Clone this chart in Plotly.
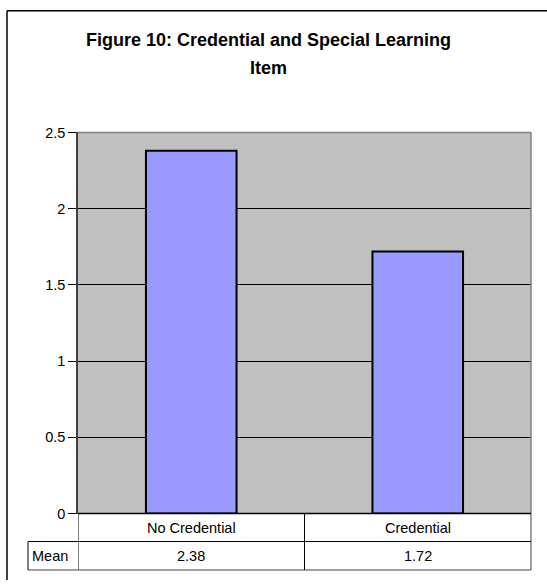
import plotly.graph_objects as go

# Data
categories = ["No Credential", "Credential"]
mean_values = [2.38, 1.72]
row_label = "Mean"
y_ticks = [0, 0.5, 1, 1.5, 2, 2.5]
y_tick_labels = ["0", "0.5", "1", "1.5", "2", "2.5"]
title_lines = ["Figure 10: Credential and Special Learning", "Item"]

W, H = 547, 588
FONT = "Arial, Liberation Sans, sans-serif"
TXT = 14.5

# the page is captured with a small vertical inset/scale; layout positions
# below are given in screen pixels and converted here
Y_OFF, Y_SCALE = 7.25, 0.975

def px(x):
    return x / W

def py(y):
    return 1 - ((y - Y_OFF) / Y_SCALE) / H

# plot area in screen pixels
PL, PR, PT, PB = 78, 531, 132, 514
ROW1_B, ROW2_B = 542, 570.5
TABLE_L = 28

fig = go.Figure()
fig.add_trace(go.Bar(
    x=categories,
    y=mean_values,
    width=0.4,
    marker=dict(color="#9999FF", line=dict(color="black", width=2)),
    hoverinfo="x+y",
))

shapes = []
# outer chart frame (top and left edges visible)
shapes.append(dict(type="line", xref="paper", yref="paper",
                   x0=px(7), x1=1.0, y0=py(10), y1=py(10),
                   line=dict(color="black", width=1.5)))
shapes.append(dict(type="line", xref="paper", yref="paper",
                   x0=px(7), x1=px(7), y0=py(10), y1=0.0,
                   line=dict(color="black", width=1.5)))
# plot area border (top and right)
shapes.append(dict(type="line", xref="paper", yref="paper",
                   x0=px(PL), x1=px(PR), y0=py(PT), y1=py(PT),
                   line=dict(color="#808080", width=1.5)))
shapes.append(dict(type="line", xref="paper", yref="paper",
                   x0=px(PR), x1=px(PR), y0=py(PT), y1=py(ROW2_B),
                   line=dict(color="#808080", width=1.5)))

# data table grid
n = len(categories)
for i in range(n):
    xb = i - 0.5
    shapes.append(dict(type="line", xref="x", yref="paper",
                       x0=xb, x1=xb, y0=py(PB), y1=py(ROW2_B),
                       line=dict(color="black", width=1)))
shapes.append(dict(type="line", xref="paper", yref="paper",
                   x0=px(TABLE_L), x1=px(PR), y0=py(ROW1_B), y1=py(ROW1_B),
                   line=dict(color="black", width=1)))
shapes.append(dict(type="line", xref="paper", yref="paper",
                   x0=px(TABLE_L), x1=px(PR), y0=py(ROW2_B), y1=py(ROW2_B),
                   line=dict(color="#404040", width=1)))
shapes.append(dict(type="line", xref="paper", yref="paper",
                   x0=px(TABLE_L), x1=px(TABLE_L), y0=py(ROW1_B), y1=py(ROW2_B),
                   line=dict(color="black", width=1)))
shapes.append(dict(type="line", xref="paper", yref="paper",
                   x0=px(PL), x1=px(PR), y0=py(PB), y1=py(PB),
                   line=dict(color="black", width=1.5)))

annotations = []
for line_text, yc in zip(title_lines, [39, 67.5]):
    annotations.append(dict(text="<b>" + line_text + "</b>", xref="paper", yref="paper",
                            x=px(268.5), y=py(yc), xanchor="center", yanchor="middle",
                            showarrow=False, align="center",
                            font=dict(family=FONT, size=18, color="black")))
for i, (cat, val) in enumerate(zip(categories, mean_values)):
    annotations.append(dict(text=cat, xref="x", yref="paper",
                            x=i, y=py((PB + ROW1_B) / 2), xanchor="center", yanchor="middle",
                            showarrow=False, font=dict(family=FONT, size=TXT, color="black")))
    annotations.append(dict(text=f"{val:.2f}", xref="x", yref="paper",
                            x=i, y=py((ROW1_B + ROW2_B) / 2), xanchor="center", yanchor="middle",
                            showarrow=False, font=dict(family=FONT, size=TXT, color="black")))
annotations.append(dict(text=row_label, xref="paper", yref="paper",
                        x=px(TABLE_L + 2), y=py((ROW1_B + ROW2_B) / 2), xanchor="left", yanchor="middle",
                        showarrow=False, font=dict(family=FONT, size=TXT, color="black")))

fig.update_layout(
    width=W, height=H,
    margin=dict(l=0, r=0, t=0, b=0),
    paper_bgcolor="white",
    plot_bgcolor="#C0C0C0",
    showlegend=False,
    font=dict(family=FONT, size=TXT, color="black"),
    xaxis=dict(domain=[px(PL), px(PR)], range=[-0.5, n - 0.5],
               showticklabels=False, ticks="", showgrid=False, zeroline=False,
               showline=False, fixedrange=True),
    yaxis=dict(domain=[py(PB), py(PT)], range=[0, 2.5],
               tickvals=y_ticks, ticktext=y_tick_labels,
               ticks="outside", ticklen=8, tickcolor="black", tickwidth=1,
               showgrid=True, gridcolor="black", gridwidth=1,
               zeroline=False, showline=True, linecolor="#404040", linewidth=1.5,
               tickfont=dict(family=FONT, size=TXT, color="black"),
               fixedrange=True),
    shapes=shapes,
    annotations=annotations,
)

fig.write_html("out.html")
